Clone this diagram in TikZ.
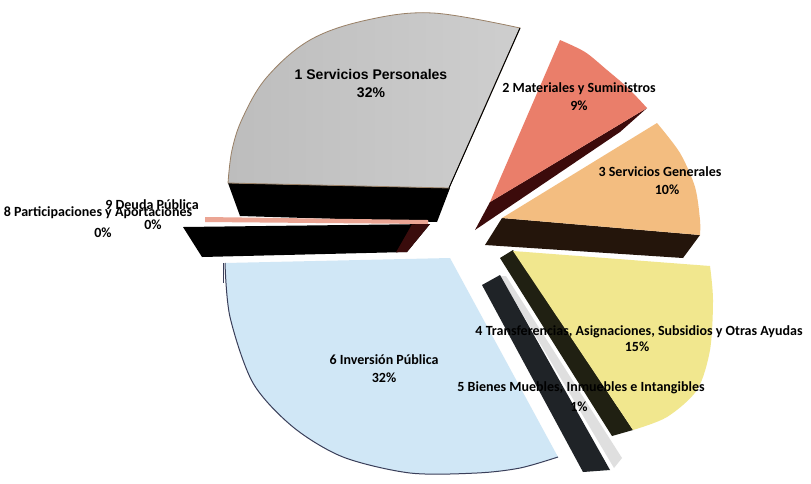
\documentclass[tikz,border=0pt]{standalone}
\usepackage{fontspec}
\setmainfont{Carlito}
\newfontfamily\arialf{Liberation Sans}
\definecolor{cgray}{HTML}{BDBDBD}
\definecolor{cgrayl}{HTML}{CECECE}
\definecolor{csalmon}{HTML}{EA7E6A}
\definecolor{corange}{HTML}{F3BD80}
\definecolor{cyellow}{HTML}{F1E78E}
\definecolor{cblue}{HTML}{D0E7F6}
\definecolor{cpink}{HTML}{EBA594}
\definecolor{dsalmon}{HTML}{3C0B0B}
\definecolor{dorange}{HTML}{24150B}
\definecolor{dyellow}{HTML}{202012}
\definecolor{dbar}{HTML}{1F2327}
\definecolor{dred}{HTML}{3A0C0C}
\definecolor{arcline}{HTML}{3A3F5A}
\begin{document}
\begin{tikzpicture}[x=1pt,y=-1pt,
  lbl/.style={font=\bfseries\fontsize{14}{18}\selectfont, align=center, inner sep=0pt, text=black},
  side/.style={fill=black}]
\useasboundingbox[fill=white] (0,0) rectangle (811,483);
% slice 1 : gray
\fill[side] (228,183) -- (450,188) -- (437,222) -- (240,216) -- cycle;
\shade[left color=cgray, right color=cgrayl, draw=gray!60!brown, line width=0.8pt]
  (449,188) -- plot[smooth, tension=0.6] coordinates {(520,28) (433,13) (367,20) (310,40) (267,77) (243,117) (232,150) (228,183)} -- cycle;
\draw[black, line width=1pt] (520,28) -- (449,188);
% slices 8 / 9
\fill[cpink] (205,217) -- (428,220) -- (428,224) -- (205,222) -- cycle;
\fill[side] (183,227) -- (430,224) -- (407,252) -- (202,257) -- cycle;
\fill[dred] (412,224.3) -- (430,224) -- (407,252) -- (396,252.3) -- cycle;
% slice 6 : light blue
\fill[cblue] (225,263) -- (450,258) -- (558,457)
  -- plot[smooth] coordinates {(558,457) (520,468) (477,473) (410,473) (343,457) (293,427) (253,383) (230,317) (225,263)} -- cycle;
\draw[arcline, line width=1pt] plot[smooth] coordinates {(558,457) (520,468) (477,473) (410,473) (343,457) (293,427) (253,383) (230,317) (225,263)};
\draw[arcline, line width=0.8pt] (223,263) -- (223,283);
% slice 5 : dark bar
\fill[gray!25] (500,276) -- (506,276) -- (622,458) -- (614,468) -- cycle;
\fill[dbar] (482,285) -- (500,275) -- (610,470) -- (583,472) -- cycle;
% slice 4 : yellow
\fill[dyellow] (500,258) -- (513,250) -- (633,430) -- (612,436) -- cycle;
\fill[cyellow] (513,251) -- (710,266)
  -- plot[smooth] coordinates {(710,266) (713,300) (710,350) (697,390) (667,417) (633,430)} -- cycle;
% slice 3 : orange
\fill[dorange] (502,218) -- (700,235) -- (683,258) -- (485,245) -- cycle;
\fill[corange] (502,218) -- (657,123)
  -- plot[smooth] coordinates {(657,123) (680,153) (695,187) (700,220) (700,235)} -- cycle;
% slice 2 : salmon
\fill[dsalmon] (475,230) -- (490,202) -- (647,108) -- (620,132) -- cycle;
\fill[csalmon] (490,202) -- (560,40)
  -- plot[smooth] coordinates {(560,40) (585,52) (607,70) (628,88) (647,108)} -- cycle;
% labels
\node[lbl, font=\arialf\bfseries\fontsize{14}{18}\selectfont] (l1) at (371,84) {1 Servicios Personales\\32\%};
\node[lbl] (l2) at (579,97) {2 Materiales y Suministros\\9\%};
\node[lbl] (l3a) at (660,172) {3 Servicios Generales};
\node[lbl] (l3b) at (667,190) {10\%};
\node[lbl] (l4a) at (639,332) {4 Transferencias, Asignaciones, Subsidios y Otras Ayudas};
\node[lbl] (l4b) at (637,347) {15\%};
\node[lbl] (l5a) at (581,388) {5 Bienes Muebles, Inmuebles e Intangibles};
\node[lbl] (l5b) at (579,407) {1\%};
\node[lbl] (l6) at (384,369) {6 Inversión Pública\\32\%};
\node[lbl] (l9a) at (152,205) {9 Deuda Pública};
\node[lbl] (l9b) at (153,225) {0\%};
\node[lbl] (l8a) at (98,213) {8 Participaciones y Aportaciones};
\node[lbl] (l8b) at (103,233) {0\%};
\end{tikzpicture}
\end{document}
